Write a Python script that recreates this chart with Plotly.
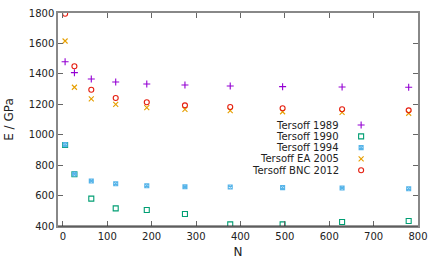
import plotly.graph_objects as go

N = [5, 26, 64, 119, 189, 275, 377, 495, 629, 779]
t1989 = [1480, 1408, 1366, 1346, 1333, 1327, 1320, 1316, 1314, 1312]
t1990 = [932, 740, 580, 516, 505, 479, 411, 411, 426, 433]
t1994 = [935, 742, 696, 678, 665, 658, 656, 652, 650, 645]
tEA2005 = [1616, 1312, 1235, 1200, 1178, 1167, 1158, 1151, 1147, 1141]
tBNC2012 = [1795, 1450, 1296, 1241, 1213, 1193, 1182, 1174, 1167, 1160]

names = ["Tersoff 1989", "Tersoff 1990", "Tersoff 1994", "Tersoff EA 2005", "Tersoff BNC 2012"]
series = [t1989, t1990, t1994, tEA2005, tBNC2012]
colors = ["#9400d3", "#009e73", "#56b4e9", "#e69f00", "#e51e10"]
symbols = ["cross-thin-open", "square-open", "square-x-open", "x-thin-open", "circle-open"]
sizes = [5, 5, 4, 5, 5]

x_ticks = [0, 100, 200, 300, 400, 500, 600, 700, 800]
y_ticks = [400, 600, 800, 1000, 1200, 1400, 1600, 1800]

fig = go.Figure()
for nm, ys, c, s, sz in zip(names, series, colors, symbols, sizes):
    fig.add_trace(go.Scatter(x=N, y=ys, mode="markers", name=nm, showlegend=False,
                             marker=dict(symbol=s, size=sz, color=c, line=dict(color=c, width=1.1))))

# manual legend (gnuplot style: text right-aligned, symbol to the right)
leg_y = [0.474, 0.421, 0.368, 0.315, 0.262]
leg_x = 0.842
for nm, c, s, sz, ly in zip(names, colors, symbols, sizes, leg_y):
    fig.add_trace(go.Scatter(x=[leg_x], y=[ly], xaxis="x2", yaxis="y2", mode="markers",
                             showlegend=False, hoverinfo="skip",
                             marker=dict(symbol=s, size=sz, color=c, line=dict(color=c, width=1.1))))
    fig.add_annotation(x=leg_x, y=ly, xref="x2", yref="y2", text=nm, showarrow=False,
                       xanchor="right", xshift=-20, font=dict(size=10, color="#222"))

fig.update_layout(
    width=436, height=262,
    margin=dict(l=58, r=18, t=13, b=36, autoexpand=False),
    paper_bgcolor="white", plot_bgcolor="white",
    font=dict(family="DejaVu Sans", size=10, color="#222"),
    xaxis=dict(range=[-11, 800], tickvals=x_ticks, ticks="inside", ticklen=5,
               tickcolor="#666", showline=True, linecolor="#888", linewidth=1.5,
               mirror="ticks", showgrid=False, zeroline=False, automargin=False,
               title=dict(text="N", standoff=7)),
    yaxis=dict(range=[400, 1800], tickvals=y_ticks, ticks="inside", ticklen=5,
               tickcolor="#666", showline=True, linecolor="#888", linewidth=1.5,
               mirror="ticks", showgrid=False, zeroline=False, automargin=False,
               title=dict(text="E / GPa", standoff=13)),
    xaxis2=dict(range=[0, 1], visible=False, fixedrange=True, overlaying="x", anchor="y2"),
    yaxis2=dict(range=[0, 1], visible=False, fixedrange=True, overlaying="y", anchor="x2"),
)
fig.add_shape(type="line", xref="paper", yref="paper", x0=0, x1=1, y0=0, y1=0,
              line=dict(color="#333", width=1.2))
fig.write_html("out.html", config={"displayModeBar": False},
               post_script="document.body.style.margin='0';")
